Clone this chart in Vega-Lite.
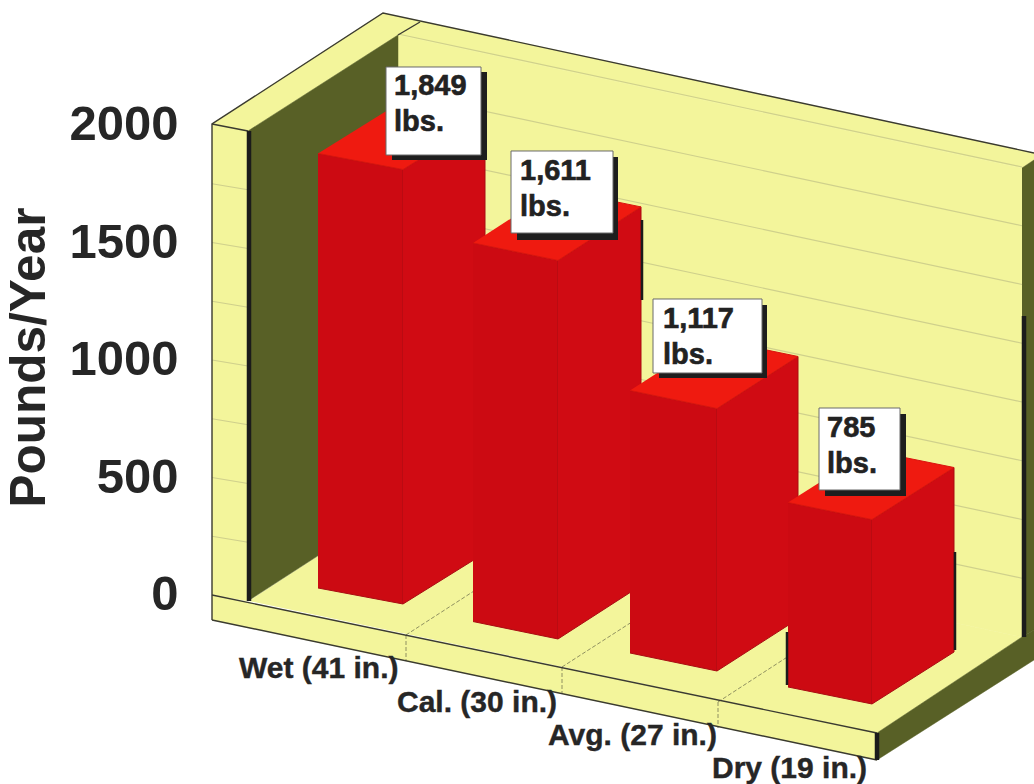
{
"$schema":"https://vega.github.io/schema/vega-lite/v6.json",
"width":1034,"height":784,"padding":0,"autosize":"none",
"background":"#ffffff",
"config":{"view":{"stroke":null}},
"datasets":{
"shell":[
{"face":"left band","surface":"wall","n":1,"across":212,"pounds":2004.3},{"face":"left band","surface":"wall","n":2,"across":248,"pounds":1974.5},{"face":"left band","surface":"wall","n":3,"across":248,"pounds":-25.5},{"face":"left band","surface":"wall","n":4,"across":212,"pounds":0},
{"face":"top band","surface":"wall","n":1,"across":212,"pounds":2004.3},{"face":"top band","surface":"wall","n":2,"across":383,"pounds":2476.6},{"face":"top band","surface":"wall","n":3,"across":1034,"pounds":1880.9},{"face":"top band","surface":"wall","n":4,"across":1034,"pounds":1851.1},{"face":"top band","surface":"wall","n":5,"across":1022,"pounds":1817},{"face":"top band","surface":"wall","n":6,"across":398,"pounds":2383},{"face":"top band","surface":"wall","n":7,"across":248,"pounds":1974.5},
{"face":"back wall","surface":"wall","n":1,"across":398,"pounds":2383},{"face":"back wall","surface":"wall","n":2,"across":1022,"pounds":1817},{"face":"back wall","surface":"wall","n":3,"across":1022,"pounds":-178.7},{"face":"back wall","surface":"wall","n":4,"across":398,"pounds":387.2},
{"face":"floor","surface":"wall","n":1,"across":249,"pounds":-25.5},{"face":"floor","surface":"wall","n":2,"across":398,"pounds":387.2},{"face":"floor","surface":"wall","n":3,"across":1022,"pounds":-178.7},{"face":"floor","surface":"wall","n":4,"across":877,"pounds":-587.2},
{"face":"front band","surface":"wall","n":1,"across":212,"pounds":0},{"face":"front band","surface":"wall","n":2,"across":877,"pounds":-587.2},{"face":"front band","surface":"wall","n":3,"across":877,"pounds":-702.1},{"face":"front band","surface":"wall","n":4,"across":212,"pounds":-106.4},
{"face":"left side","surface":"shade","n":1,"across":248,"pounds":1974.5},{"face":"left side","surface":"shade","n":2,"across":398,"pounds":2383},{"face":"left side","surface":"shade","n":3,"across":398,"pounds":387.2},{"face":"left side","surface":"shade","n":4,"across":248,"pounds":-25.5},
{"face":"right side","surface":"shade","n":1,"across":1022,"pounds":1817},{"face":"right side","surface":"shade","n":2,"across":1034,"pounds":1851.1},{"face":"right side","surface":"shade","n":3,"across":1034,"pounds":-148.9},{"face":"right side","surface":"shade","n":4,"across":1022,"pounds":-178.7},
{"face":"base side","surface":"shade","n":1,"across":877,"pounds":-587.2},{"face":"base side","surface":"shade","n":2,"across":1022,"pounds":-178.7},{"face":"base side","surface":"shade","n":3,"across":1034,"pounds":-148.9},{"face":"base side","surface":"shade","n":4,"across":1034,"pounds":-276.6},{"face":"base side","surface":"shade","n":5,"across":877,"pounds":-702.1}
],
"grid":[
{"line":"b2000","across":398,"pounds":2387.2},{"line":"b2000","across":1022,"pounds":1821.3},
{"line":"b1750","across":398,"pounds":2137.2},{"line":"b1750","across":1022,"pounds":1571.3},
{"line":"b1500","across":398,"pounds":1887.2},{"line":"b1500","across":1022,"pounds":1321.3},
{"line":"b1250","across":398,"pounds":1637.2},{"line":"b1250","across":1022,"pounds":1071.3},
{"line":"b1000","across":398,"pounds":1387.2},{"line":"b1000","across":1022,"pounds":821.3},
{"line":"b750","across":398,"pounds":1137.2},{"line":"b750","across":1022,"pounds":571.3},
{"line":"b500","across":398,"pounds":887.2},{"line":"b500","across":1022,"pounds":321.3},
{"line":"b250","across":398,"pounds":637.2},{"line":"b250","across":1022,"pounds":71.3},
{"line":"l1750","across":212,"pounds":1750},{"line":"l1750","across":248,"pounds":1724.5},
{"line":"l1500","across":212,"pounds":1500},{"line":"l1500","across":248,"pounds":1474.5},
{"line":"l1250","across":212,"pounds":1250},{"line":"l1250","across":248,"pounds":1224.5},
{"line":"l1000","across":212,"pounds":1000},{"line":"l1000","across":248,"pounds":974.5},
{"line":"l750","across":212,"pounds":750},{"line":"l750","across":248,"pounds":724.5},
{"line":"l500","across":212,"pounds":500},{"line":"l500","across":248,"pounds":474.5},
{"line":"l250","across":212,"pounds":250},{"line":"l250","across":248,"pounds":224.5}
],
"dividers":[
{"line":"v1","across":406,"pounds":-170.2},{"line":"v1","across":406,"pounds":-280.9},
{"line":"v2","across":562,"pounds":-306.4},{"line":"v2","across":562,"pounds":-417},
{"line":"v3","across":718,"pounds":-455.3},{"line":"v3","across":718,"pounds":-566},
{"line":"d1","across":406,"pounds":-170.2},{"line":"d1","across":556.6,"pounds":244.3},
{"line":"d2","across":562,"pounds":-306.4},{"line":"d2","across":711,"pounds":102.1},
{"line":"d3","across":718,"pounds":-455.3},{"line":"d3","across":869,"pounds":-38.3}
],
"outline":[
{"line":"outer","n":1,"across":212,"pounds":-106.4},{"line":"outer","n":2,"across":212,"pounds":2004.3},{"line":"outer","n":3,"across":383,"pounds":2476.6},{"line":"outer","n":4,"across":1034,"pounds":1880.9},
{"line":"base","n":1,"across":212,"pounds":-106.4},{"line":"base","n":2,"across":877,"pounds":-702.1},
{"line":"floor edge","n":1,"across":212,"pounds":0},{"line":"floor edge","n":2,"across":877,"pounds":-587.2},
{"line":"inner corner","n":1,"across":398,"pounds":2383},{"line":"inner corner","n":2,"across":420,"pounds":2438.3},
{"line":"band corner","n":1,"across":212,"pounds":2004.3},{"line":"band corner","n":2,"across":248,"pounds":1974.5}
],
"heavy":[
{"line":"left post","across":249,"pounds":1974.5},{"line":"left post","across":249,"pounds":-25.5},
{"line":"base post","across":877,"pounds":-587.2},{"line":"base post","across":877,"pounds":-702.1},
{"line":"right post","across":1024,"pounds":1187.2},{"line":"right post","across":1024,"pounds":-178.7}
],
"bars":[
{"bar":"Wet front","surface":"front","n":1,"across":318,"pounds":29.8},{"bar":"Wet front","surface":"front","n":2,"across":403,"pounds":-38.3},{"bar":"Wet front","surface":"front","n":3,"across":403,"pounds":1810.7},{"bar":"Wet front","surface":"front","n":4,"across":318,"pounds":1878.8},
{"bar":"Wet side","surface":"side","n":1,"across":403,"pounds":-38.3},{"bar":"Wet side","surface":"side","n":2,"across":485,"pounds":178.7},{"bar":"Wet side","surface":"side","n":3,"across":485,"pounds":2027.7},{"bar":"Wet side","surface":"side","n":4,"across":403,"pounds":1810.7},
{"bar":"Wet top","surface":"top","n":1,"across":318,"pounds":1878.8},{"bar":"Wet top","surface":"top","n":2,"across":403,"pounds":1810.7},{"bar":"Wet top","surface":"top","n":3,"across":485,"pounds":2027.7},{"bar":"Wet top","surface":"top","n":4,"across":400,"pounds":2095.8},
{"bar":"Cal front","surface":"front","n":1,"across":473,"pounds":-113},{"bar":"Cal front","surface":"front","n":2,"across":558,"pounds":-187.2},{"bar":"Cal front","surface":"front","n":3,"across":558,"pounds":1423.8},{"bar":"Cal front","surface":"front","n":4,"across":473,"pounds":1498},
{"bar":"Cal side","surface":"side","n":1,"across":558,"pounds":-187.2},{"bar":"Cal side","surface":"side","n":2,"across":641,"pounds":40.4},{"bar":"Cal side","surface":"side","n":3,"across":641,"pounds":1651.4},{"bar":"Cal side","surface":"side","n":4,"across":558,"pounds":1423.8},
{"bar":"Cal top","surface":"top","n":1,"across":473,"pounds":1498},{"bar":"Cal top","surface":"top","n":2,"across":558,"pounds":1423.8},{"bar":"Cal top","surface":"top","n":3,"across":641,"pounds":1651.4},{"bar":"Cal top","surface":"top","n":4,"across":556,"pounds":1725.6},
{"bar":"Avg front","surface":"front","n":1,"across":630,"pounds":-246.8},{"bar":"Avg front","surface":"front","n":2,"across":717,"pounds":-323.4},{"bar":"Avg front","surface":"front","n":3,"across":717,"pounds":793.6},{"bar":"Avg front","surface":"front","n":4,"across":630,"pounds":870.2},
{"bar":"Avg side","surface":"side","n":1,"across":717,"pounds":-323.4},{"bar":"Avg side","surface":"side","n":2,"across":798,"pounds":-102.1},{"bar":"Avg side","surface":"side","n":3,"across":798,"pounds":1014.9},{"bar":"Avg side","surface":"side","n":4,"across":717,"pounds":793.6},
{"bar":"Avg top","surface":"top","n":1,"across":630,"pounds":870.2},{"bar":"Avg top","surface":"top","n":2,"across":717,"pounds":793.6},{"bar":"Avg top","surface":"top","n":3,"across":798,"pounds":1014.9},{"bar":"Avg top","surface":"top","n":4,"across":711,"pounds":1091.5},
{"bar":"Dry front","surface":"front","n":1,"across":788,"pounds":-391.5},{"bar":"Dry front","surface":"front","n":2,"across":872,"pounds":-463.8},{"bar":"Dry front","surface":"front","n":3,"across":872,"pounds":321.2},{"bar":"Dry front","surface":"front","n":4,"across":788,"pounds":393.5},
{"bar":"Dry side","surface":"side","n":1,"across":872,"pounds":-463.8},{"bar":"Dry side","surface":"side","n":2,"across":954,"pounds":-242.6},{"bar":"Dry side","surface":"side","n":3,"across":954,"pounds":542.4},{"bar":"Dry side","surface":"side","n":4,"across":872,"pounds":321.2},
{"bar":"Dry top","surface":"top","n":1,"across":788,"pounds":393.5},{"bar":"Dry top","surface":"top","n":2,"across":872,"pounds":321.2},{"bar":"Dry top","surface":"top","n":3,"across":954,"pounds":542.4},{"bar":"Dry top","surface":"top","n":4,"across":870,"pounds":614.7}
],
"barEdges":[
{"line":"Cal side edge","across":642,"pounds":1595.7},{"line":"Cal side edge","across":642,"pounds":1255.3},
{"line":"Dry left edge","across":787,"pounds":-157.4},{"line":"Dry left edge","across":787,"pounds":-383},
{"line":"Dry right edge","across":955,"pounds":183},{"line":"Dry right edge","across":955,"pounds":-234}
],
"callouts":[
{"caption":"1,849\nlbs.","x1":386,"x2":481,"top":2246.8,"bottom":1872.3,"sx1":392,"sx2":487,"stop":2225.5,"sbottom":1851.1,"tx":394,"ty":2127.7},
{"caption":"1,611\nlbs.","x1":511,"x2":613,"top":1889.4,"bottom":1540.4,"sx1":517,"sx2":618,"stop":1863.8,"sbottom":1510.6,"tx":520,"ty":1766},
{"caption":"1,117\nlbs.","x1":653,"x2":762,"top":1259.6,"bottom":944.7,"sx1":659,"sx2":767,"stop":1234,"sbottom":923.4,"tx":663,"ty":1136.2},
{"caption":"785\nlbs.","x1":819,"x2":900,"top":795.7,"bottom":446.8,"sx1":825,"sx2":906,"stop":770.2,"sbottom":421.3,"tx":827,"ty":672.3}
],
"categories":[
{"name":"Wet (41 in.)","across":239,"pounds":-353.2},
{"name":"Cal. (30 in.)","across":397,"pounds":-497.9},
{"name":"Avg. (27 in.)","across":548,"pounds":-638.3},
{"name":"Dry (19 in.)","across":712,"pounds":-778.7}
]
},
"layer":[
{"data":{"name":"shell"},"mark":{"type":"line","strokeWidth":0.5},
 "encoding":{"x":{"field":"across","type":"quantitative","scale":{"domain":[0,1034],"range":[0,1034],"nice":false,"zero":false},"axis":null},
  "y":{"field":"pounds","type":"quantitative","scale":{"domain":[-804.3,2531.9],"range":[784,0],"nice":false,"zero":false},
   "axis":{"values":[0,500,1000,1500,2000],"format":"d","grid":false,"domain":false,"ticks":false,"offset":-178,"labelPadding":0,
    "labelFont":"Liberation Sans","labelFontWeight":"bold","labelFontSize":49,"labelColor":"#262626",
    "title":"Pounds/Year","titleFont":"Liberation Sans","titleFontWeight":"bold","titleFontSize":49.5,"titleColor":"#262626","titleX":-124,"titleY":357,"titleAnchor":"middle"}},
  "detail":{"field":"face"},"order":{"field":"n"},
  "fill":{"field":"surface","type":"nominal","scale":{"domain":["wall","shade"],"range":["#f3f59b","#586026"]},"legend":null},
  "stroke":{"field":"surface","type":"nominal","scale":{"domain":["wall","shade"],"range":["#f3f59b","#586026"]},"legend":null}}},
{"data":{"name":"grid"},"mark":{"type":"line","stroke":"#cfd08c","strokeWidth":1.2},
 "encoding":{"x":{"field":"across","type":"quantitative"},"y":{"field":"pounds","type":"quantitative"},"detail":{"field":"line"}}},
{"data":{"name":"dividers"},"mark":{"type":"line","stroke":"#8f9060","strokeWidth":1,"strokeDash":[4,2]},
 "encoding":{"x":{"field":"across","type":"quantitative"},"y":{"field":"pounds","type":"quantitative"},"detail":{"field":"line"}}},
{"data":{"name":"outline"},"mark":{"type":"line","stroke":"#3a3a30","strokeWidth":1.4},
 "encoding":{"x":{"field":"across","type":"quantitative"},"y":{"field":"pounds","type":"quantitative"},"detail":{"field":"line"},"order":{"field":"n"}}},
{"data":{"name":"heavy"},"mark":{"type":"line","stroke":"#1b1b1b","strokeWidth":4.5},
 "encoding":{"x":{"field":"across","type":"quantitative"},"y":{"field":"pounds","type":"quantitative"},"detail":{"field":"line"}}},
{"data":{"name":"bars"},"mark":{"type":"line","strokeWidth":1},
 "encoding":{"x":{"field":"across","type":"quantitative"},"y":{"field":"pounds","type":"quantitative"},"detail":{"field":"bar"},"order":{"field":"n"},
  "fill":{"field":"surface","type":"nominal","scale":{"domain":["front","side","top"],"range":["#cc0a12","#d00b13","#ef1a10"]},"legend":null},
  "stroke":{"field":"surface","type":"nominal","scale":{"domain":["front","side","top"],"range":["#a90d12","#a90d12","#d8140f"]},"legend":null}}},
{"data":{"name":"barEdges"},"mark":{"type":"line","stroke":"#1b1b1b","strokeWidth":2.5},
 "encoding":{"x":{"field":"across","type":"quantitative"},"y":{"field":"pounds","type":"quantitative"},"detail":{"field":"line"}}},
{"data":{"name":"callouts"},"mark":{"type":"rect","fill":"#1e1e1e"},
 "encoding":{"x":{"field":"sx1","type":"quantitative"},"x2":{"field":"sx2"},"y":{"field":"stop","type":"quantitative"},"y2":{"field":"sbottom"}}},
{"data":{"name":"callouts"},"mark":{"type":"rect","fill":"#ffffff","stroke":"#6a6a6a","strokeWidth":1},
 "encoding":{"x":{"field":"x1","type":"quantitative"},"x2":{"field":"x2"},"y":{"field":"top","type":"quantitative"},"y2":{"field":"bottom"}}},
{"data":{"name":"callouts"},"mark":{"type":"text","font":"Liberation Sans","fontWeight":"bold","fontSize":29,"align":"left","baseline":"alphabetic","lineBreak":"\n","lineHeight":36,"fill":"#222222","stroke":"#222222","strokeWidth":0.6},
 "encoding":{"x":{"field":"tx","type":"quantitative"},"y":{"field":"ty","type":"quantitative"},"text":{"field":"caption"}}},
{"data":{"name":"categories"},"mark":{"type":"text","font":"Liberation Sans","fontWeight":"bold","fontSize":30,"align":"left","baseline":"alphabetic","fill":"#262626","stroke":"#262626","strokeWidth":0.4},
 "encoding":{"x":{"field":"across","type":"quantitative"},"y":{"field":"pounds","type":"quantitative"},"text":{"field":"name"}}}
],
"resolve":{"scale":{"fill":"independent","stroke":"independent"}}
}
